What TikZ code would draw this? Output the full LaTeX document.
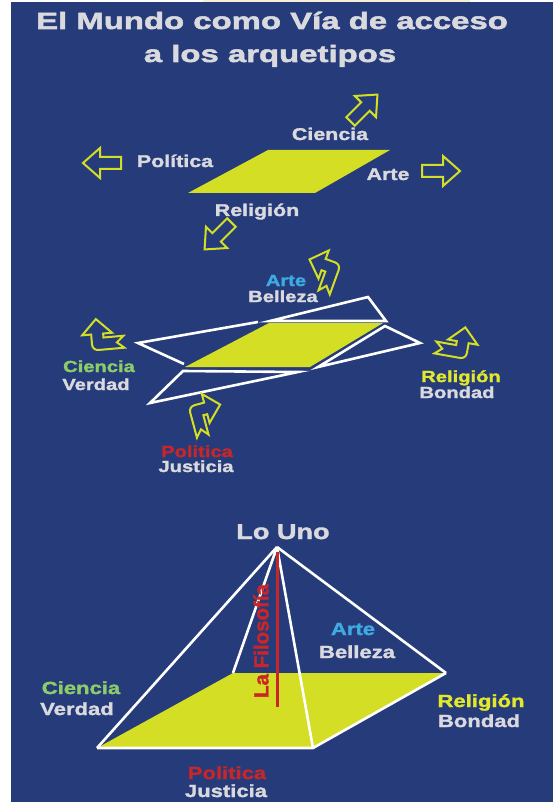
\documentclass[tikz,border=0pt]{standalone}
\usepackage{fontspec}
\newfontfamily\titlefont[FakeStretch=1.40,FakeBold=2.2]{Liberation Sans Bold}
\newfontfamily\labelfont[FakeStretch=1.26,FakeBold=1.6]{Liberation Sans Bold}
\newfontfamily\plainfont[FakeBold=1.6]{Liberation Sans Bold}
\definecolor{mundoblue}{RGB}{38,60,122}
\definecolor{mundoyellow}{RGB}{212,222,36}
\definecolor{textgray}{RGB}{218,218,222}
\definecolor{artecyan}{RGB}{62,170,225}
\definecolor{cienciagreen}{RGB}{140,205,105}
\definecolor{politicared}{RGB}{200,38,40}
\definecolor{religionyellow}{RGB}{226,232,44}
\definecolor{stripbeige}{RGB}{246,236,216}

\begin{document}
\begin{tikzpicture}[x=1pt, y=-1pt,
    flap/.style={draw=white, line width=2.6pt, line join=miter},
    arrowline/.style={draw=mundoyellow, fill=mundoblue, line width=2pt, line join=miter},
    lbl/.style={anchor=base, inner sep=0pt, text=textgray},
    toplbl/.style={lbl, font=\labelfont\fontsize{17}{19}\selectfont},
    midlbl/.style={lbl, font=\labelfont\fontsize{16}{18}\selectfont},
    botlbl/.style={lbl, font=\labelfont\fontsize{17.5}{19}\selectfont},
    blockarrow/.pic={
      \path[arrowline] (-19,-6) -- (2,-6) -- (2,-15) -- (19,0) -- (2,15) -- (2,6) -- (-19,6) -- cycle;
    },
    bentarrow/.pic={
      \path[arrowline] (-6,26) -- (-6,0) .. controls (-6,-3.5) and (-3.5,-6) .. (0,-6)
        -- (10,-6) -- (10,-15) -- (25,0) -- (10,15) -- (10,6) -- (6,6) -- (6,26) -- (0,19) -- cycle;
    }]
  \useasboundingbox (0,0) rectangle (556,802);
  \fill[white] (0,0) rectangle (556,802);
  \fill[mundoblue] (11,2) rectangle (553,802);
  \fill[stripbeige] (203,0) rectangle (470,2);

  % title
  \node[lbl, font=\titlefont\fontsize{23.5}{26}\selectfont] (title1) at (272,29) {El Mundo como Vía de acceso};
  \node[lbl, font=\titlefont\fontsize{23.5}{26}\selectfont] (title2) at (270,62) {a los arquetipos};

  % el mundo plano
  \fill[mundoyellow] (188,193) -- (315,193) -- (390,150) -- (268,150) -- cycle;
  \node[toplbl] (ciencia1) at (330,140) {Ciencia};
  \node[toplbl] (politica1) at (175,167) {Política};
  \node[toplbl] (arte1) at (388,180) {Arte};
  \node[toplbl] (religion1) at (257,216) {Religión};
  \pic at (102,163) [rotate=180] {blockarrow};
  \pic at (441,171) {blockarrow};
  \pic at (364,108) [rotate=45] {blockarrow};
  \pic at (218,236) [rotate=225] {blockarrow};

  % el mundo desplegado
  \fill[mundoyellow] (185,367) -- (310,367) -- (383,323) -- (269,323) -- cycle;
  \draw[flap] (270,321) -- (368,297) -- (386,321) -- cycle;
  \draw[flap] (184,364) -- (138,343) -- (258,322);
  \draw[flap] (385,326) -- (420,343) -- (318,367) -- cycle;
  \draw[flap] (183,371) -- (298,372) -- (150,403) -- cycle;
  \pic at (333,268) [rotate=-20, xscale=-1] {bentarrow};
  \pic at (98,344) [rotate=95] {bentarrow};
  \pic at (461,352) [rotate=-100, xscale=-1] {bentarrow};
  \pic at (196,411) [rotate=15] {bentarrow};
  \node[midlbl, text=artecyan] (arte2) at (286,286) {Arte};
  \node[midlbl] (belleza2) at (283,302) {Belleza};
  \node[midlbl, text=cienciagreen] (ciencia2) at (99,372) {Ciencia};
  \node[midlbl] (verdad2) at (96,390) {Verdad};
  \node[midlbl, text=religionyellow] (religion2) at (461,382) {Religión};
  \node[midlbl] (bondad2) at (457,398) {Bondad};
  \node[midlbl, text=politicared] (politica2) at (197,457) {Politica};
  \node[midlbl] (justicia2) at (196,472) {Justicia};

  % la piramide
  \coordinate (apex) at (277,547);
  \coordinate (bl) at (233,673);
  \coordinate (br) at (446,673);
  \coordinate (fr) at (313,748);
  \coordinate (fl) at (97,748);
  \fill[mundoyellow] (fl) -- (fr) -- (br) -- (bl) -- cycle;
  \draw[flap] (fl) -- (fr) -- (br);
  \draw[flap] (apex) -- (fl);
  \draw[flap] (apex) -- (bl);
  \draw[flap] (apex) -- (fr);
  \draw[flap] (apex) -- (br);
  \draw[politicared, line width=3pt] (277,552) -- (277,707);
  \node[anchor=center, inner sep=0pt, rotate=90, text=politicared, font=\plainfont\fontsize{20.5}{22}\selectfont] (filosofia) at (261,641) {La Filosofía};
  \node[lbl, font=\labelfont\fontsize{21.5}{24}\selectfont] (launo) at (283,539) {Lo Uno};
  \node[botlbl, text=artecyan] (arte3) at (353,635) {Arte};
  \node[botlbl] (belleza3) at (357,658) {Belleza};
  \node[botlbl, text=cienciagreen] (ciencia3) at (81,694) {Ciencia};
  \node[botlbl] (verdad3) at (77,715) {Verdad};
  \node[botlbl, text=religionyellow] (religion3) at (481,707) {Religión};
  \node[botlbl] (bondad3) at (479,727) {Bondad};
  \node[botlbl, text=politicared] (politica3) at (227,779) {Politica};
  \node[botlbl] (justicia3) at (226,797) {Justicia};
\end{tikzpicture}
\end{document}
